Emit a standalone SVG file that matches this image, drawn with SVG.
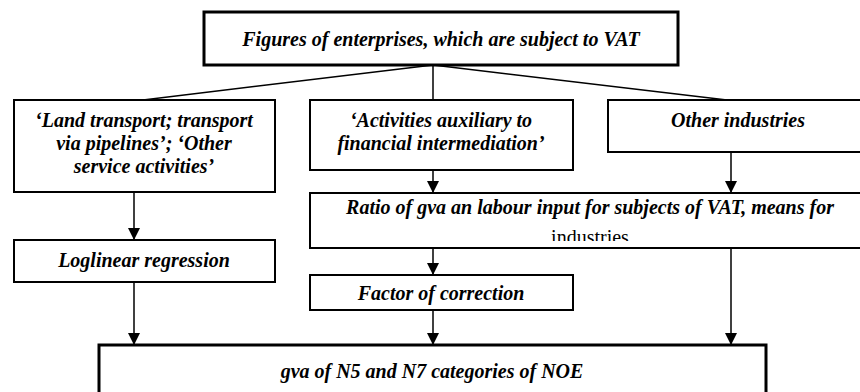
<svg xmlns="http://www.w3.org/2000/svg" width="860" height="392" viewBox="0 0 860 392">
<style>
.box{fill:#fff;stroke:#000;stroke-width:2}
.thick{stroke-width:3}
.t{font-family:"Liberation Serif","Times New Roman",Times,serif;font-size:20px;font-weight:bold;font-style:italic;fill:#000;text-anchor:middle}
.r{font-family:"Liberation Serif","Times New Roman",Times,serif;font-size:20px;fill:#000;text-anchor:middle}
.c{fill:none;stroke:#000;stroke-width:1.5}
</style>
<defs>
<marker id="ah" viewBox="0 0 12 12" refX="12" refY="6" markerWidth="12" markerHeight="12" markerUnits="userSpaceOnUse" orient="auto">
<path d="M0,0 L12,6 L0,12 Z" fill="#000"/>
</marker>
<clipPath id="clipRatio"><rect x="310" y="193" width="560" height="48"/></clipPath>
</defs>
<rect width="860" height="392" fill="#fff"/>
<g id="connectors">
<path class="c" d="M433,65 L143,100"/>
<path class="c" d="M433,65 L433,100"/>
<path class="c" d="M433,65 L727,100"/>
<path class="c" d="M134,192 L134,240" marker-end="url(#ah)"/>
<path class="c" d="M134,282 L134,345" marker-end="url(#ah)"/>
<path class="c" d="M433,170 L433,193" marker-end="url(#ah)"/>
<path class="c" d="M731,152 L731,193" marker-end="url(#ah)"/>
<path class="c" d="M433,248 L433,275" marker-end="url(#ah)"/>
<path class="c" d="M433,310 L433,345" marker-end="url(#ah)"/>
<path class="c" d="M731,248 L731,345" marker-end="url(#ah)"/>
</g>
<g id="n-top">
<rect class="box thick" x="204" y="12" width="474" height="53"/>
<text class="t" x="441" y="46">Figures of enterprises, which are subject to VAT</text>
</g>
<g id="n-land">
<rect class="box" x="14" y="100" width="261" height="92"/>
<text class="t" x="144" y="127">‘Land transport; transport</text>
<text class="t" x="144" y="150">via pipelines’; ‘Other</text>
<text class="t" x="144" y="173">service activities’</text>
</g>
<g id="n-fin">
<rect class="box" x="310" y="100" width="263" height="70"/>
<text class="t" x="441" y="127">‘Activities auxiliary to</text>
<text class="t" x="441" y="150">financial intermediation’</text>
</g>
<g id="n-other">
<rect class="box" x="608" y="100" width="262" height="52"/>
<text class="t" x="738" y="127">Other industries</text>
</g>
<g id="n-ratio">
<rect class="box" x="310" y="193" width="560" height="55"/>
<g clip-path="url(#clipRatio)">
<text class="t" x="590" y="214">Ratio of gva an labour input for subjects of VAT, means for</text>
<text class="r" x="590" y="244">industries</text>
</g>
</g>
<g id="n-log">
<rect class="box" x="14" y="240" width="261" height="42"/>
<text class="t" x="144" y="267">Loglinear regression</text>
</g>
<g id="n-factor">
<rect class="box" x="310" y="275" width="263" height="35"/>
<text class="t" x="441" y="300">Factor of correction</text>
</g>
<g id="n-gva">
<rect class="box thick" x="99" y="345" width="667" height="60"/>
<text class="t" x="432" y="378">gva of N5 and N7 categories of NOE</text>
</g>
</svg>
